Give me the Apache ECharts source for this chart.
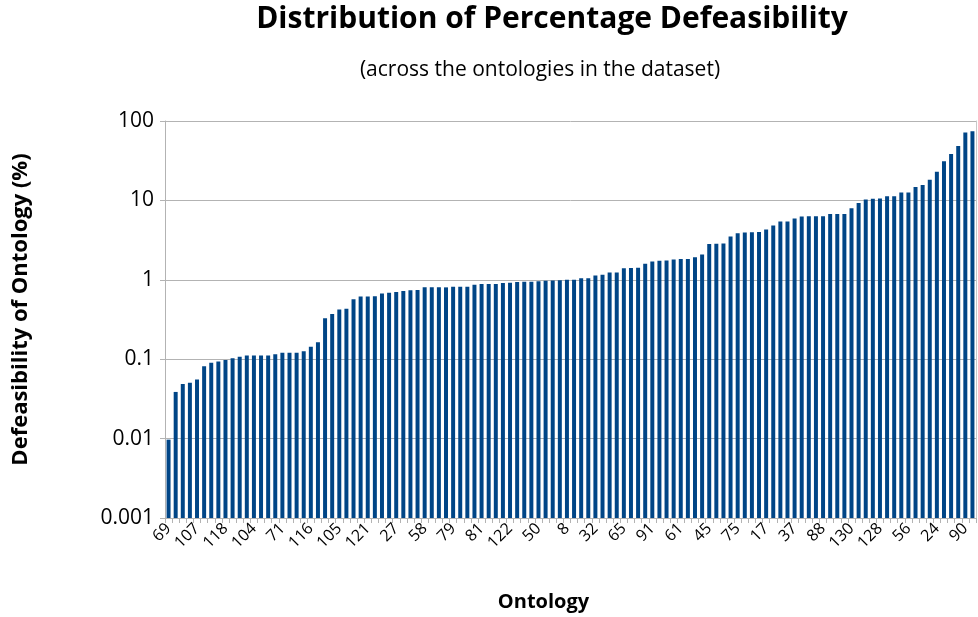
<!DOCTYPE html>
<html>
<head>
<meta charset="utf-8">
<script src="https://cdn.jsdelivr.net/npm/echarts@6/dist/echarts.min.js"></script>
<style>
html,body{margin:0;padding:0;background:#fff;}
#chart{width:978px;height:617px;}
</style>
</head>
<body>
<div id="chart"></div>
<script>
// Tick labels shown on the x axis (every 4th ontology)
const tickLabels = ['69','107','118','104','71','116','105','121','27','58','79','81','122','50','8',
  '32','65','91','61','45','75','17','37','88','130','128','56','24','90'];

// Defeasibility (%) per ontology, sorted ascending (114 ontologies)
const defeasibility = [
  0.0097, 0.0387, 0.0487, 0.0506, 0.0557, 0.0818, 0.090, 0.0935, 0.098, 0.103,
  0.107, 0.111, 0.111, 0.111, 0.111, 0.1155, 0.121, 0.121, 0.121, 0.126,
  0.143, 0.163, 0.327, 0.370, 0.423, 0.432, 0.569, 0.614, 0.614, 0.621,
  0.670, 0.689, 0.702, 0.722, 0.736, 0.743, 0.803, 0.803, 0.803, 0.803,
  0.818, 0.818, 0.818, 0.867, 0.883, 0.883, 0.883, 0.909, 0.918, 0.935,
  0.944, 0.944, 0.962, 0.972, 0.981, 0.99, 1.0, 1.0, 1.049, 1.049,
  1.13, 1.16, 1.234, 1.234, 1.397, 1.41, 1.42, 1.59, 1.70, 1.74,
  1.75, 1.80, 1.83, 1.83, 1.92, 2.08, 2.83, 2.84, 2.86, 3.52,
  3.87, 3.95, 3.97, 4.0, 4.31, 4.84, 5.42, 5.42, 5.91, 6.26,
  6.32, 6.32, 6.32, 6.76, 6.76, 6.76, 7.95, 9.27, 10.3, 10.5,
  10.6, 11.3, 11.3, 12.6, 12.6, 14.7, 15.6, 18.2, 22.9, 31.2,
  38.5, 48.5, 71.4, 74.1
];

// y tick labels
const yTickLabels = ['0.001','0.01','0.1','1','10','100'];

// categories: labelled every 4th bar, others unlabeled
const categories = defeasibility.map((v, i) => (i % 4 === 0 && tickLabels[i / 4] !== undefined) ? tickLabels[i / 4] : '');

const FONT = '"Open Sans", "DejaVu Sans", sans-serif';
const chart = echarts.init(document.getElementById('chart'), null, {renderer: 'canvas'});
chart.setOption({
  animation: false,
  backgroundColor: '#ffffff',
  textStyle: {fontFamily: FONT},
  title: [
    {text: 'Distribution of Percentage Defeasibility', left: 552, top: 4, textAlign: 'center', padding: 0,
     textStyle: {fontFamily: FONT, fontWeight: 'bold', fontSize: 30, color: '#000'}},
    {text: '(across the ontologies in the dataset)', left: 540, top: 60, textAlign: 'center', padding: 0,
     textStyle: {fontFamily: FONT, fontWeight: 'normal', fontSize: 21, color: '#000'}}
  ],
  grid: {left: 165, right: 2, top: 121, bottom: 95, containLabel: false},
  xAxis: {
    type: 'category',
    data: categories,
    name: 'Ontology',
    nameLocation: 'middle',
    nameGap: 74,
    nameTextStyle: {fontFamily: FONT, fontWeight: 'bold', fontSize: 20, color: '#000', padding: [0, 54, 0, 0]},
    axisLine: {show: true, lineStyle: {color: '#b3b3b3', width: 1}},
    axisTick: {show: true, interval: 0, length: 5, alignWithLabel: false, lineStyle: {color: '#b3b3b3'}},
    axisLabel: {interval: 0, rotate: 45, fontSize: 16, color: '#000', margin: 8, fontFamily: FONT},
    splitLine: {show: false}
  },
  yAxis: [{
    type: 'log',
    logBase: 10,
    min: 0.001,
    max: 100,
    startValue: 0.001,
    name: 'Defeasibility of Ontology (%)',
    nameLocation: 'middle',
    nameRotate: 90,
    nameGap: 133,
    nameTextStyle: {fontFamily: FONT, fontWeight: 'bold', fontSize: 22, color: '#000', padding: [0, 0, 0, 20]},
    axisLine: {show: true, lineStyle: {color: '#b3b3b3', width: 1}},
    axisTick: {show: true, length: 5, lineStyle: {color: '#b3b3b3'}},
    axisLabel: {fontSize: 21, color: '#000', margin: 11, fontFamily: FONT,
      formatter: function (v) {
        const e = Math.round(Math.log10(v));
        return yTickLabels[e + 3] !== undefined ? yTickLabels[e + 3] : String(v);
      }},
    splitLine: {show: true, lineStyle: {color: '#b3b3b3', width: 1}}
  }, {
    type: 'value',
    position: 'right',
    min: 0,
    max: 1,
    axisLine: {show: true, lineStyle: {color: '#c8c8c8', width: 1}},
    axisTick: {show: false},
    axisLabel: {show: false},
    splitLine: {show: false}
  }],
  series: [{
    type: 'bar',
    data: defeasibility,
    yAxisIndex: 0,
    barCategoryGap: '44%',
    itemStyle: {color: '#004586'}
  }]
});
</script>
</body>
</html>
